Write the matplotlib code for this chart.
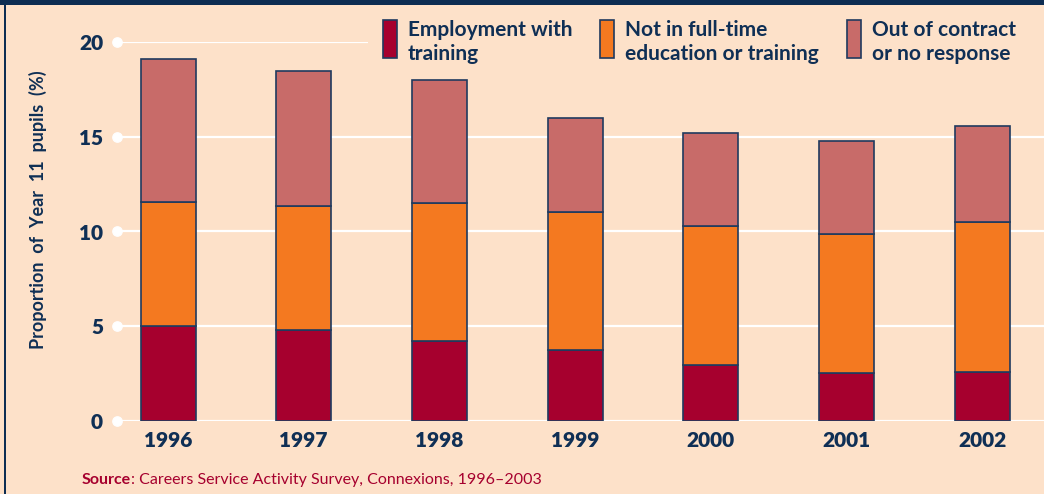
import matplotlib.pyplot as plt
from matplotlib.patches import Rectangle

years = ['1996', '1997', '1998', '1999', '2000', '2001', '2002']
employment = [5.0, 4.8, 4.2, 3.75, 2.95, 2.55, 2.6]
not_in_edu = [6.55, 6.55, 7.3, 7.3, 7.35, 7.3, 7.9]
out_contract = [7.55, 7.1, 6.5, 4.95, 4.9, 4.95, 5.05]
series_names = ['Employment with\ntraining', 'Not in full-time\neducation or training',
                'Out of contract\nor no response']
yticks = [0, 5, 10, 15, 20]

bg = '#FDE1C9'
navy = '#0F2F55'
colors = ['#A6002E', '#F47920', '#C86B69']

plt.rcParams['font.family'] = ['Lato', 'DejaVu Sans']

fig = plt.figure(figsize=(10.44, 4.94), dpi=100)
fig.patch.set_facecolor(bg)
W, H = 1044., 494.

ax = fig.add_axes([117/W, 73/H, (1044-117)/W, (421-42)/H])
ax.set_facecolor(bg)
x = list(range(len(years)))
ax.set_xlim(-0.376, 6.455)
ax.set_ylim(0, 20)

for t in yticks:
    ax.axhline(t, color='white', lw=1.6, zorder=0)
ax.scatter([-0.376]*len(yticks), yticks, s=45, color='white', zorder=3, clip_on=False)

bottom = [0]*len(years)
for vals, c in zip([employment, not_in_edu, out_contract], colors):
    ax.bar(x, vals, width=0.405, bottom=bottom, color=c, edgecolor='#1F3A5F', lw=1.2, zorder=2)
    bottom = [b + v for b, v in zip(bottom, vals)]

for s in ax.spines.values():
    s.set_visible(False)
ax.set_xticks(x)
ax.set_xticklabels(years, fontsize=15, fontweight='heavy', color=navy)
ax.set_yticks(yticks)
ax.set_yticklabels([str(t) for t in yticks], fontsize=15, fontweight='heavy', color=navy)
ax.tick_params(length=0, pad=10)
ax.tick_params(axis='x', pad=7)

fig.text(38/W, 1-210/H, 'Proportion  of  Year  11  pupils  (%)',
         rotation=90, fontsize=13, fontweight='bold', color=navy, ha='center', va='center')

# cover for the legend area
fig.patches.append(Rectangle((368/W, 1-72/H), (1044-368)/W, 62/H, transform=fig.transFigure,
                             facecolor=bg, edgecolor='none', zorder=5))
patch_x = [383, 600, 847]
for px, c, name in zip(patch_x, colors, series_names):
    fig.patches.append(Rectangle((px/W, 1-58/H), 14/W, 38/H, transform=fig.transFigure,
                                 facecolor=c, edgecolor='#1F3A5F', lw=1.2, zorder=6))
    fig.text((px+25)/W, 1-42/H, name, fontsize=15, fontweight='bold', color=navy,
             ha='left', va='center', linespacing=1.2, zorder=7)

# frame
fig.patches.append(Rectangle((0, 1-5/H), 1, 5/H, transform=fig.transFigure,
                             facecolor='#0D2D52', edgecolor='none', zorder=8))
fig.patches.append(Rectangle((4/W, 0), 2/W, 1, transform=fig.transFigure,
                             facecolor='#0D2D52', edgecolor='none', zorder=8))

src = fig.text(82/W, 1-480/H, 'Source', fontsize=11.5, fontweight='bold', color='#A6002E',
               ha='left', va='center')
fig.canvas.draw()
bb = src.get_window_extent()
fig.text(bb.x1/W, 1-480/H, ': Careers Service Activity Survey, Connexions, 1996–2003',
         fontsize=11.5, color='#A6002E', ha='left', va='center')

fig.savefig('out.png', dpi=100, facecolor=bg)
